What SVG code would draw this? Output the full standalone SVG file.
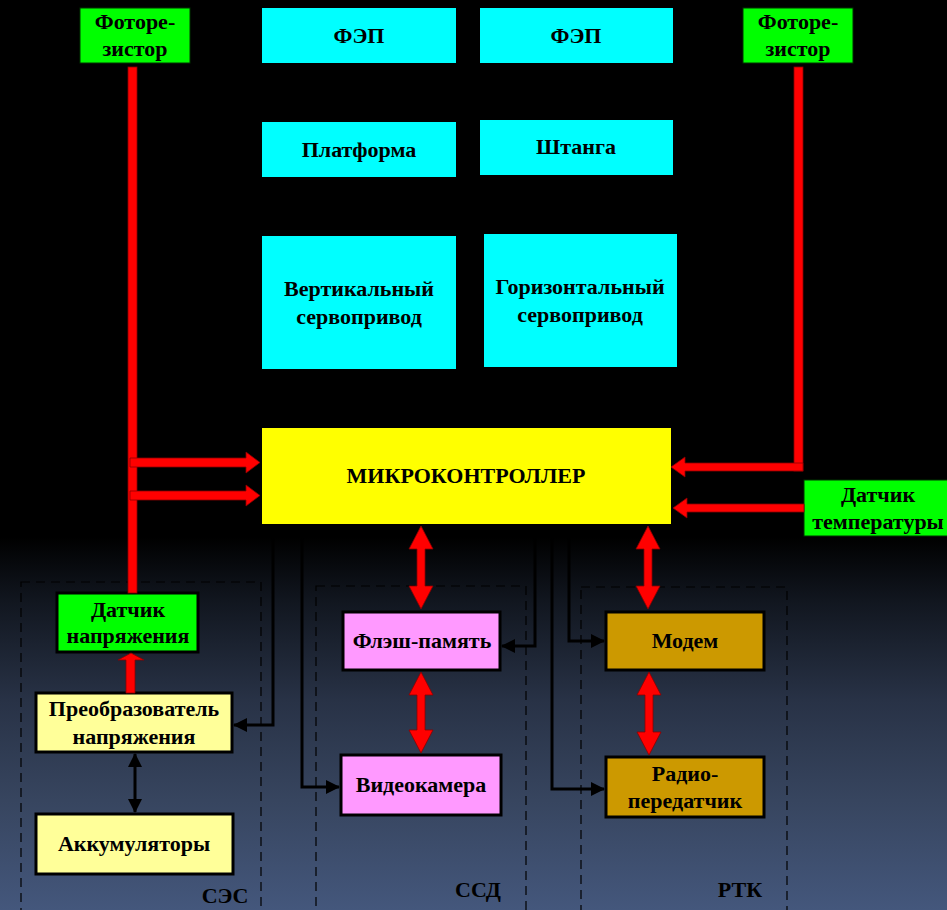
<svg xmlns="http://www.w3.org/2000/svg" width="947" height="910" viewBox="0 0 947 910">
<defs>
<linearGradient id="bg" gradientUnits="userSpaceOnUse" x1="0" y1="0" x2="0" y2="910">
<stop offset="0" stop-color="#000000"/>
<stop offset="0.59" stop-color="#000000"/>
<stop offset="0.66" stop-color="#11161f"/>
<stop offset="0.77" stop-color="#283246"/>
<stop offset="0.88" stop-color="#37455f"/>
<stop offset="1" stop-color="#44577c"/>
</linearGradient>
<marker id="ah" viewBox="0 0 14 14" refX="13" refY="7" markerWidth="14" markerHeight="14" markerUnits="userSpaceOnUse" orient="auto-start-reverse">
<path d="M0,0 L14,7 L0,14 Z" fill="#000"/>
</marker>
</defs>
<style>
text{font-family:"Liberation Serif","Times New Roman",serif;font-weight:bold;font-size:22px;fill:#000;text-anchor:middle}
.cyan{fill:#00ffff}
.green{fill:#00ff00;stroke:#003300;stroke-width:1}
.greenb{fill:#00ff00;stroke:#000;stroke-width:3}
.lyel{fill:#ffff99;stroke:#000;stroke-width:3}
.pink{fill:#ff99ff;stroke:#000;stroke-width:3}
.gold{fill:#cc9900;stroke:#000;stroke-width:3}
.dash{fill:none;stroke:#000;stroke-width:1.2;stroke-dasharray:9 6}
.red{fill:#ff0000;stroke:#8b0000;stroke-width:0.8}
.blk{fill:none;stroke:#000;stroke-width:3}
</style>
<rect x="0" y="0" width="947" height="910" fill="url(#bg)"/>

<g id="groups">
<rect class="dash" x="21" y="582" width="240" height="340"/>
<text x="225" y="903">СЭС</text>
<rect class="dash" x="316" y="586" width="210" height="340"/>
<text x="478" y="897">ССД</text>
<rect class="dash" x="581" y="587" width="206" height="340"/>
<text x="740" y="897">РТК</text>
</g>

<g id="fotorez-left"><rect class="green" x="80" y="8" width="110" height="55"/><text x="135" y="29">Фоторе-</text><text x="135" y="56">зистор</text></g>
<g id="fotorez-right"><rect class="green" x="743" y="8" width="110" height="55"/><text x="798" y="29">Фоторе-</text><text x="798" y="56">зистор</text></g>
<g id="fep1"><rect class="cyan" x="262" y="8" width="194" height="55"/><text x="359" y="43">ФЭП</text></g>
<g id="fep2"><rect class="cyan" x="480" y="8" width="193" height="55"/><text x="576" y="43">ФЭП</text></g>
<g id="platforma"><rect class="cyan" x="262" y="122" width="194" height="55"/><text x="359" y="157">Платформа</text></g>
<g id="shtanga"><rect class="cyan" x="480" y="120" width="193" height="55"/><text x="576" y="154">Штанга</text></g>
<g id="vert-servo"><rect class="cyan" x="262" y="236" width="194" height="133"/><text x="359" y="296">Вертикальный</text><text x="359" y="324">сервопривод</text></g>
<g id="hor-servo"><rect class="cyan" x="484" y="234" width="193" height="133"/><text x="580" y="294">Горизонтальный</text><text x="580" y="322">сервопривод</text></g>
<g id="mc"><rect x="262" y="428" width="409" height="96" fill="#ffff00"/><text x="466" y="483">МИКРОКОНТРОЛЛЕР</text></g>
<g id="temp"><rect class="green" x="804" y="480" width="150" height="56"/><text x="878" y="502">Датчик</text><text x="878" y="529">температуры</text></g>
<g id="dat-napr"><rect class="greenb" x="57" y="593" width="141" height="59"/><text x="128" y="617">Датчик</text><text x="128" y="643">напряжения</text></g>
<g id="preobr"><rect class="lyel" x="36" y="693" width="196" height="59"/><text x="134" y="716">Преобразователь</text><text x="134" y="744">напряжения</text></g>
<g id="akkum"><rect class="lyel" x="36" y="814" width="197" height="60"/><text x="134" y="851">Аккумуляторы</text></g>
<g id="flash"><rect class="pink" x="343" y="612" width="157" height="58"/><text x="422" y="648">Флэш-память</text></g>
<g id="video"><rect class="pink" x="341" y="755" width="160" height="60"/><text x="421" y="792">Видеокамера</text></g>
<g id="modem"><rect class="gold" x="606" y="612" width="158" height="58"/><text x="685" y="648">Модем</text></g>
<g id="radio"><rect class="gold" x="606" y="757" width="158" height="60"/><text x="685" y="781">Радио-</text><text x="685" y="808">передатчик</text></g>

<g id="connectors">
<rect class="red" x="128" y="67" width="9" height="526"/>
<rect class="red" x="794" y="67" width="9" height="404"/>
<polygon class="red" points="130,458 246,458 246,452 260,462.5 246,473 246,467 130,467"/>
<polygon class="red" points="130,491 246,491 246,485 260,495.5 246,506 246,500 130,500"/>
<polygon class="red" points="803,463 685,463 685,457 671,467 685,477 685,471 803,471"/>
<polygon class="red" points="804,504 687,504 687,498 673,508 687,518 687,512 804,512"/>
<polygon class="red" points="126,693 126,660 118,660 131,653 144,660 135,660 135,693"/>
<polygon class="red" points="421,526 433,549 425,549 425,586 433,586 421,609 409,586 417,586 417,549 409,549"/>
<polygon class="red" points="421,672 433,695 425,695 425,730 433,730 421,753 409,730 417,730 417,695 409,695"/>
<polygon class="red" points="648,526 660,549 652,549 652,586 660,586 648,609 636,586 644,586 644,549 636,549"/>
<polygon class="red" points="649,672 661,695 653,695 653,732 661,732 649,755 637,732 645,732 645,695 637,695"/>
<line class="blk" x1="135" y1="754" x2="135" y2="812" marker-start="url(#ah)" marker-end="url(#ah)"/>
<polyline class="blk" points="273,530 273,725 234,725" marker-end="url(#ah)"/>
<polyline class="blk" points="302,530 302,787 339,787" marker-end="url(#ah)"/>
<polyline class="blk" points="535,530 535,646 502,646" marker-end="url(#ah)"/>
<polyline class="blk" points="569,530 569,641 604,641" marker-end="url(#ah)"/>
<polyline class="blk" points="552,530 552,789 604,789" marker-end="url(#ah)"/>
</g>
</svg>
